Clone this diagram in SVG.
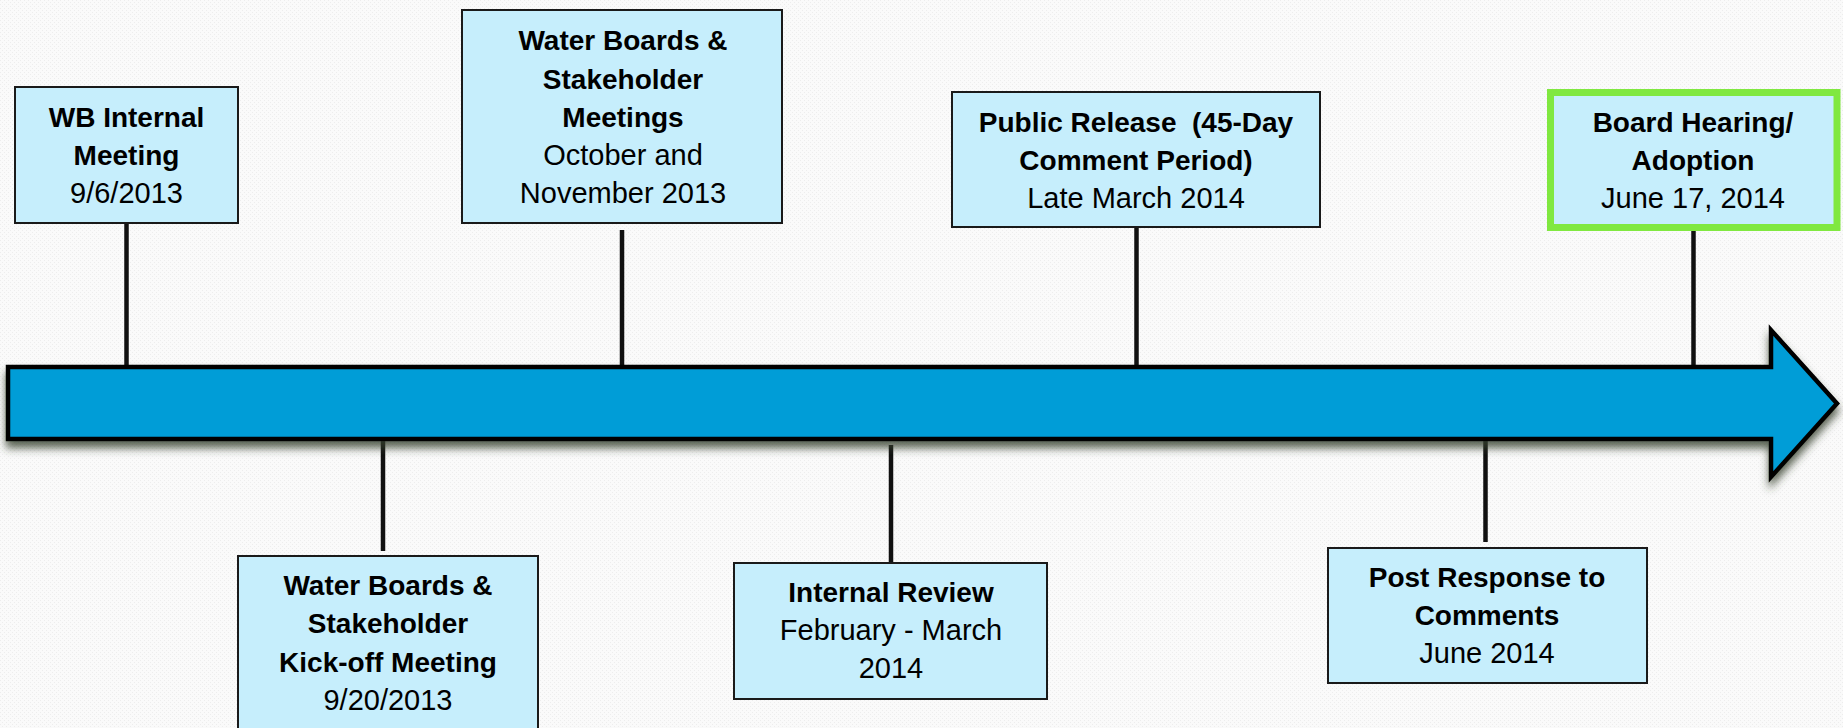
<svg xmlns="http://www.w3.org/2000/svg" width="1843" height="728" viewBox="0 0 1843 728">
<defs>
<pattern id="bgdots" width="4" height="4" patternUnits="userSpaceOnUse">
<rect width="4" height="4" fill="#fafafa"/>
<rect x="0" y="0" width="1" height="1" fill="#ededed"/>
<rect x="2" y="2" width="1" height="1" fill="#ededed"/>
</pattern>
<filter id="shadow" x="-5%" y="-30%" width="110%" height="170%">
<feDropShadow dx="0" dy="7" stdDeviation="4" flood-color="#34402a" flood-opacity="0.8"/>
</filter>
</defs>
<style>
.box{fill:#c6eefc;stroke:#1a1a1a;stroke-width:2}
.green{fill:#c6eefc;stroke:#80e840;stroke-width:7}
.conn{stroke:#111;stroke-width:4.5;fill:none}
.b{font-family:"Liberation Sans",Arial,sans-serif;font-weight:bold;font-size:28px;fill:#000;text-anchor:middle}
.r{font-family:"Liberation Sans",Arial,sans-serif;font-size:29px;fill:#000;text-anchor:middle}
</style>
<rect width="1843" height="728" fill="url(#bgdots)"/>

<g id="connectors">
<line class="conn" x1="126.5" y1="223" x2="126.5" y2="366"/>
<line class="conn" x1="622" y1="230" x2="622" y2="366"/>
<line class="conn" x1="1136.5" y1="227" x2="1136.5" y2="366"/>
<line class="conn" x1="1693.5" y1="231" x2="1693.5" y2="366"/>
<line class="conn" x1="383" y1="437" x2="383" y2="551"/>
<line class="conn" x1="891" y1="445" x2="891" y2="563"/>
<line class="conn" x1="1485.5" y1="440" x2="1485.5" y2="542"/>
</g>

<g id="timeline-arrow">
<path d="M8 367 L1771 367 L1771 330 L1837 403.5 L1771 477 L1771 439 L8 439 Z" fill="#029dd7" stroke="#000" stroke-width="4.5" stroke-linejoin="miter" filter="url(#shadow)"/>
</g>

<g id="wb-internal">
<rect class="box" x="15" y="87" width="223" height="136"/>
<text class="b" x="126.5" y="127">WB Internal</text>
<text class="b" x="126.5" y="165">Meeting</text>
<text class="r" x="126.5" y="203">9/6/2013</text>
</g>

<g id="stakeholder-meetings">
<rect class="box" x="462" y="10" width="320" height="213"/>
<text class="b" x="623" y="50">Water Boards &amp;</text>
<text class="b" x="623" y="88.5">Stakeholder</text>
<text class="b" x="623" y="127">Meetings</text>
<text class="r" x="623" y="165">October and</text>
<text class="r" x="623" y="203">November 2013</text>
</g>

<g id="public-release">
<rect class="box" x="952" y="92" width="368" height="135"/>
<text class="b" x="1136" y="132" xml:space="preserve">Public Release  (45-Day</text>
<text class="b" x="1136" y="170">Comment Period)</text>
<text class="r" x="1136" y="208">Late March 2014</text>
</g>

<g id="board-hearing">
<rect class="green" x="1550.5" y="92.5" width="286.5" height="135"/>
<text class="b" x="1693" y="132">Board Hearing/</text>
<text class="b" x="1693" y="170">Adoption</text>
<text class="r" x="1693" y="208">June 17, 2014</text>
</g>

<g id="kickoff-meeting">
<rect class="box" x="238" y="556" width="300" height="185"/>
<text class="b" x="388" y="595">Water Boards &amp;</text>
<text class="b" x="388" y="633">Stakeholder</text>
<text class="b" x="388" y="672">Kick-off Meeting</text>
<text class="r" x="388" y="710">9/20/2013</text>
</g>

<g id="internal-review">
<rect class="box" x="734" y="563" width="313" height="136"/>
<text class="b" x="891" y="602">Internal Review</text>
<text class="r" x="891" y="640">February - March</text>
<text class="r" x="891" y="678">2014</text>
</g>

<g id="post-response">
<rect class="box" x="1328" y="548" width="319" height="135"/>
<text class="b" x="1487" y="587">Post Response to</text>
<text class="b" x="1487" y="625">Comments</text>
<text class="r" x="1487" y="663">June 2014</text>
</g>
</svg>
